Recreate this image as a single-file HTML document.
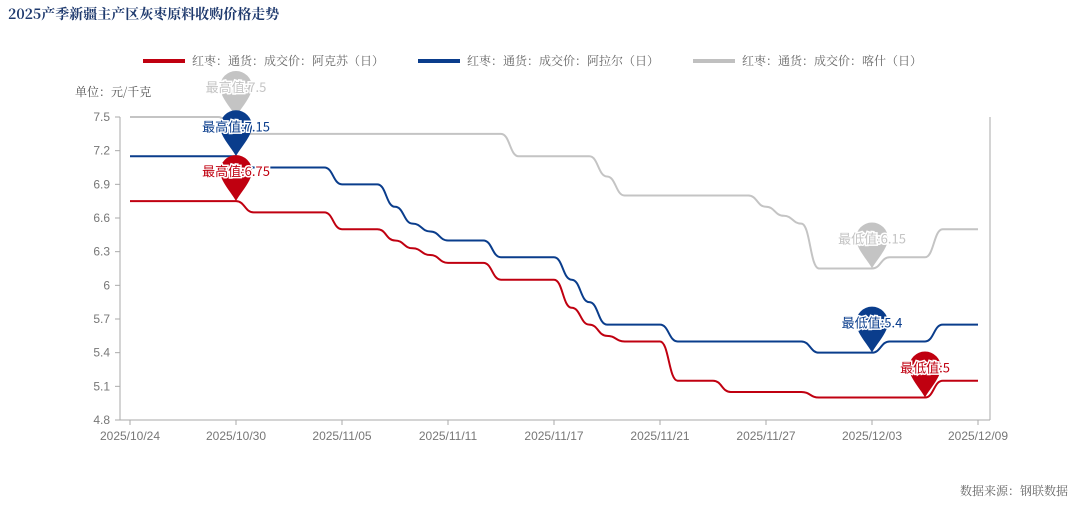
<!DOCTYPE html>
<html><head><meta charset="utf-8"><style>
body{margin:0;background:#fff;width:1080px;height:509px;overflow:hidden;font-family:"Liberation Sans","Noto Sans CJK SC",sans-serif}
</style></head><body>
<svg id="s" width="1080" height="509" xmlns="http://www.w3.org/2000/svg" font-family="Liberation Sans, Noto Sans CJK SC, sans-serif">
<text x="8" y="19" font-size="14" font-weight="bold" fill="#1f3a6e" font-family="Noto Serif CJK SC, serif">2025产季新疆主产区灰枣原料收购价格走势</text>
<line x1="143" y1="61" x2="185" y2="61" stroke="#c00010" stroke-width="4"/>
<text x="192" y="65" font-size="12" fill="#666" font-family="Noto Serif CJK SC, serif">红枣：通货：成交价：阿克苏（日）</text>
<line x1="418" y1="61" x2="460" y2="61" stroke="#0a3d8c" stroke-width="4"/>
<text x="467" y="65" font-size="12" fill="#666" font-family="Noto Serif CJK SC, serif">红枣：通货：成交价：阿拉尔（日）</text>
<line x1="693" y1="61" x2="735" y2="61" stroke="#c0c0c0" stroke-width="4"/>
<text x="742" y="65" font-size="12" fill="#666" font-family="Noto Serif CJK SC, serif">红枣：通货：成交价：喀什（日）</text>
<text x="75" y="96" font-size="12" fill="#555" font-family="Noto Serif CJK SC, serif">单位：元/千克</text>
<text x="1068" y="495" font-size="12" fill="#666" text-anchor="end" font-family="Noto Serif CJK SC, serif">数据来源：钢联数据</text>
<g id="ax" stroke="#aaa" stroke-width="1" fill="none"></g>
<g id="lab" font-size="12" fill="#777"></g>
<g id="ser" fill="none" stroke-width="2"></g>
<g id="mk"></g>
</svg>
<script>
var NS="http://www.w3.org/2000/svg";
function el(p,t,a,txt){var e=document.createElementNS(NS,t);for(var k in a)e.setAttribute(k,a[k]);if(txt!=null)e.textContent=txt;document.getElementById(p).appendChild(e);return e;}
function X(i){return 130+i*848/48;}
function Y(v){return 117+(7.5-v)*303/2.7;}
el("ax","line",{x1:120,y1:117,x2:120,y2:420});
el("ax","line",{x1:120,y1:420,x2:990,y2:420});
el("ax","line",{x1:990,y1:117,x2:990,y2:420});
var yt=[7.5,7.2,6.9,6.6,6.3,6,5.7,5.4,5.1,4.8];
yt.forEach(function(v){var y=Y(v);el("ax","line",{x1:115,y1:y,x2:120,y2:y});el("lab","text",{x:110,y:y+4,"text-anchor":"end"},String(v));});
var xl=["2025/10/24","2025/10/30","2025/11/05","2025/11/11","2025/11/17","2025/11/21","2025/11/27","2025/12/03","2025/12/09"];
xl.forEach(function(t,k){var x=X(k*6);el("ax","line",{x1:x,y1:420,x2:x,y2:425});el("lab","text",{x:x,y:440,"text-anchor":"middle"},t);});
function fill(segs){var a=[];segs.forEach(function(s){for(var i=0;i<s[1];i++)a.push(s[0]);});return a;}
var red=fill([[6.75,7],[6.65,5],[6.5,3],[6.4,1],[6.33,1],[6.27,1],[6.2,3],[6.05,4],[5.8,1],[5.65,1],[5.55,1],[5.5,3],[5.15,3],[5.05,5],[5.0,7],[5.15,3]]);
var blue=fill([[7.15,7],[7.05,5],[6.9,3],[6.7,1],[6.55,1],[6.48,1],[6.4,3],[6.25,4],[6.05,1],[5.85,1],[5.65,4],[5.5,8],[5.4,4],[5.5,3],[5.65,3]]);
var gray=fill([[7.5,6],[7.35,16],[7.15,5],[6.97,1],[6.8,8],[6.7,1],[6.62,1],[6.55,1],[6.15,4],[6.25,3],[6.5,3]]);
function path(d){var s="M"+X(0)+","+Y(d[0]);for(var i=1;i<d.length;i++){var x0=X(i-1),x1=X(i),m=(x0+x1)/2;s+=" C"+m+","+Y(d[i-1])+" "+m+","+Y(d[i])+" "+x1+","+Y(d[i]);}return s;}
el("ser","path",{d:path(gray),stroke:"#c4c4c4"});
el("ser","path",{d:path(blue),stroke:"#0a3d8c"});
el("ser","path",{d:path(red),stroke:"#c00010"});
function pin(i,v,c,t){var x=X(i),y=Y(v),cy=y-30,r=16;
var d="M"+x+","+y+" C"+(x-4)+","+(y-8)+" "+(x-r)+","+(cy+10)+" "+(x-r)+","+cy+" A"+r+","+r+" 0 1 1 "+(x+r)+","+cy+" C"+(x+r)+","+(cy+10)+" "+(x+4)+","+(y-8)+" "+x+","+y+" Z";
el("mk","path",{d:d,fill:c});
el("mk","text",{x:x,y:cy+5,"text-anchor":"middle","font-size":13,fill:c,stroke:"#fff","stroke-width":3,"paint-order":"stroke","font-family":"Noto Sans CJK SC, sans-serif"},t);}
pin(6,7.5,"#c4c4c4","最高值:7.5");
pin(6,7.15,"#0a3d8c","最高值:7.15");
pin(6,6.75,"#c00010","最高值:6.75");
pin(42,6.15,"#c4c4c4","最低值:6.15");
pin(42,5.4,"#0a3d8c","最低值:5.4");
pin(45,5.0,"#c00010","最低值:5");
</script>
</body></html>
